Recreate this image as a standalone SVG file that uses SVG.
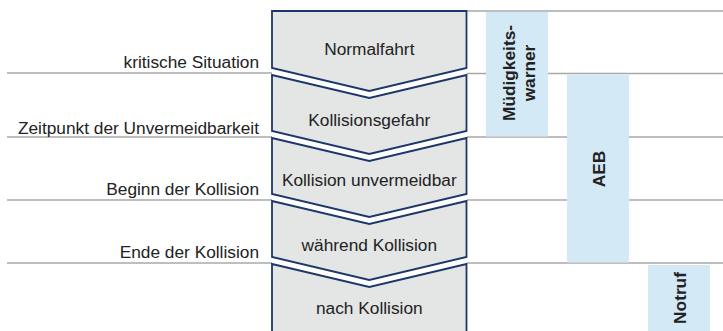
<svg xmlns="http://www.w3.org/2000/svg" width="723" height="331" viewBox="0 0 723 331">
<style>
.ln{stroke:#a8a8a8;stroke-width:1.6;fill:none}
.chev{fill:#e4e5e5;stroke:#1c3868;stroke-width:1.8;stroke-linejoin:miter}
.box{fill:#d3e9f6}
.t{font-family:"Liberation Sans",Arial,Helvetica,sans-serif;font-size:17.3px;fill:#222}
.c{text-anchor:middle}
.r{text-anchor:end}
.b{font-weight:bold;text-anchor:middle}
</style>
<rect width="723" height="331" fill="#ffffff"/>
<g id="connectors">
<line class="ln" x1="7" y1="73" x2="272" y2="73"/>
<line class="ln" x1="7" y1="137" x2="272" y2="137"/>
<line class="ln" x1="7" y1="200" x2="272" y2="200"/>
<line class="ln" x1="7" y1="263" x2="272" y2="263"/>
<line class="ln" x1="467" y1="11" x2="723" y2="11"/>
<line class="ln" x1="467" y1="73.5" x2="723" y2="73.5"/>
<line class="ln" x1="467" y1="137" x2="723" y2="137"/>
<line class="ln" x1="467" y1="200" x2="723" y2="200"/>
<line class="ln" x1="467" y1="263" x2="723" y2="263"/>
</g>
<g id="labels">
<text class="t r" x="259" y="68">kritische Situation</text>
<text class="t r" x="259" y="134">Zeitpunkt der Unvermeidbarkeit</text>
<text class="t r" x="259" y="195">Beginn der Kollision</text>
<text class="t r" x="259" y="258">Ende der Kollision</text>
</g>
<g id="normalfahrt">
<path class="chev" d="M272 11 H466.5 V68 L369.3 91 L272 68 Z"/>
<text class="t c" x="369.3" y="55">Normalfahrt</text>
</g>
<g id="kollisionsgefahr">
<path class="chev" d="M272 75 L369.3 98 L466.5 75 V131 L369.3 154 L272 131 Z"/>
<text class="t c" x="369.3" y="126">Kollisionsgefahr</text>
</g>
<g id="kollision-unvermeidbar">
<path class="chev" d="M272 138 L369.3 161 L466.5 138 V194 L369.3 217 L272 194 Z"/>
<text class="t c" x="369.3" y="186">Kollision unvermeidbar</text>
</g>
<g id="waehrend-kollision">
<path class="chev" d="M272 201 L369.3 224 L466.5 201 V257 L369.3 280 L272 257 Z"/>
<text class="t c" x="369.3" y="251">während Kollision</text>
</g>
<g id="nach-kollision">
<path class="chev" d="M272 264 L369.3 287 L466.5 264 V340 H272 Z"/>
<text class="t c" x="369.3" y="314">nach Kollision</text>
</g>
<g id="muedigkeitswarner">
<rect class="box" x="486" y="12" width="62" height="124.5"/>
<text class="t b" transform="translate(515 73) rotate(-90)" x="0" y="0">Müdigkeits-</text>
<text class="t b" transform="translate(535 73) rotate(-90)" x="0" y="0">warner</text>
</g>
<g id="aeb">
<rect class="box" x="567" y="75" width="62" height="187.5"/>
<text class="t b" transform="translate(605 169) rotate(-90)" x="0" y="0">AEB</text>
</g>
<g id="notruf">
<rect class="box" x="648" y="265" width="62" height="70"/>
<text class="t b" transform="translate(686 298) rotate(-90)" x="0" y="0">Notruf</text>
</g>
</svg>
